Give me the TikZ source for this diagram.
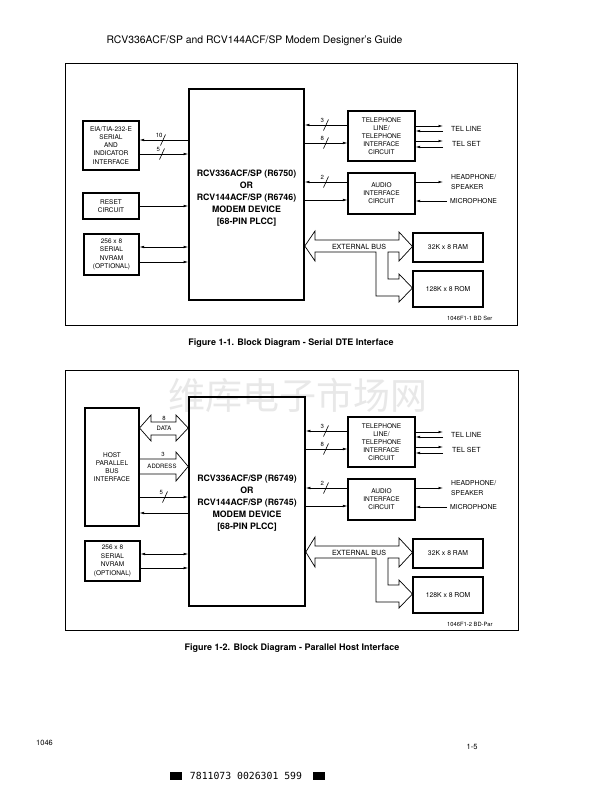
\documentclass[tikz,border=0pt]{standalone}
\usepackage{fontspec}
\setmainfont{TeX Gyre Heros}
\newfontfamily\cjkwm{Noto Sans CJK SC}
\newfontfamily\monof{DejaVu Sans Mono}
\usetikzlibrary{arrows.meta,calc}
\tikzset{
  blk/.style={draw, line width=1.1pt, inner sep=0pt, align=center, font=\fontsize{6.5}{8.1}\selectfont},
  devbox/.style={draw, line width=1.6pt, inner sep=0pt},
  devtext/.style={inner sep=0pt, align=center, font=\bfseries\fontsize{8.8}{12}\selectfont},
  wire/.style={line width=0.6pt},
  arr/.style={wire, -{Latex[length=4.5pt,width=2.6pt]}},
  darr/.style={wire, {Latex[length=4.5pt,width=2.6pt]}-{Latex[length=4.5pt,width=2.6pt]}},
  bus/.style={line width=0.7pt, line join=miter},
  lbl/.style={inner sep=0pt, anchor=west, align=left, font=\fontsize{6.8}{10}\selectfont},
  num/.style={inner sep=0.3pt, anchor=south east, font=\fontsize{6}{6}\selectfont},
  busnum/.style={inner sep=0.3pt, anchor=south, font=\fontsize{6}{6}\selectfont},
  bustext/.style={inner sep=0pt, font=\fontsize{6}{6}\selectfont},
  frame/.style={line width=0.7pt},
  reftext/.style={inner sep=0pt, anchor=west, font=\fontsize{5.8}{6}\selectfont},
  caption/.style={inner sep=0pt, font=\bfseries\fontsize{9}{10}\selectfont},
  slashmark/.pic={\draw[wire] (-2.5,5.5) -- (2.5,-5.5);}
}
% right half of a figure: #1 suffix, #2 vertical shift, #3 reference text
\newcommand\rhalf[3]{%
\begin{scope}[yshift=#2]
  \node[blk, minimum width=67pt, minimum height=50pt] (tel#1) at (381.5,136) {TELEPHONE\\LINE/\\TELEPHONE\\INTERFACE\\CIRCUIT};
  \node[blk, minimum width=67pt, minimum height=41pt] (aud#1) at (381.5,193.5) {AUDIO\\INTERFACE\\CIRCUIT};
  \node[blk, minimum width=70pt, minimum height=29pt, font=\fontsize{6.8}{8}\selectfont] (ram#1) at (448,247.5) {32K x 8 RAM};
  \node[blk, minimum width=70pt, minimum height=36pt, font=\fontsize{6.8}{8}\selectfont] (rom#1) at (448,289) {128K x 8 ROM};
  % device <-> telephone / audio
  \draw[arr] (tel#1.west |- 0,125) -- (dev#1.east |- 0,125);
  \draw[arr] (dev#1.east |- 0,143) -- (tel#1.west |- 0,143);
  \draw[arr] (aud#1.west |- 0,182) -- (dev#1.east |- 0,182);
  \draw[arr] (dev#1.east |- 0,200) -- (aud#1.west |- 0,200);
  \pic at (326,125) {slashmark}; \node[num] (n3r#1) at (324.5,123) {3};
  \pic at (326,143) {slashmark}; \node[num] (n8r#1) at (324.5,141) {8};
  \pic at (326,182) {slashmark}; \node[num] (n2r#1) at (324.5,180) {2};
  % outside lines
  \coordinate (tla#1) at (443,126);
  \coordinate (tlb#1) at (443,131);
  \coordinate (tsa#1) at (443,141);
  \coordinate (tsb#1) at (443,147);
  \coordinate (hp#1) at (443,182);
  \coordinate (mic#1) at (447,201);
  \draw[arr] (tel#1.east |- tla#1) -- (tla#1);
  \draw[arr] (tlb#1) -- (tel#1.east |- tlb#1);
  \draw[arr] (tel#1.east |- tsa#1) -- (tsa#1);
  \draw[arr] (tsb#1) -- (tel#1.east |- tsb#1);
  \draw[arr] (aud#1.east |- hp#1) -- (hp#1);
  \draw[arr] (mic#1) -- (aud#1.east |- mic#1);
  \node[lbl, font=\fontsize{7}{8}\selectfont] (tlt#1) at (451,129) {TEL LINE};
  \node[lbl, font=\fontsize{7}{8}\selectfont] (tst#1) at (452,144) {TEL SET};
  \node[lbl] (hpt#1) at (451,182) {HEADPHONE/\\SPEAKER};
  \node[lbl] (mict#1) at (450,201) {MICROPHONE};
  % external bus
  \draw[bus] (315,240) -- (399,240) -- (399,232) -- (ram#1.west |- 0,246.5) -- (399,261) -- (399,252)
     -- (388,252) -- (388,279) -- (399,279) -- (399,274) -- (rom#1.west |- 0,288) -- (399,302) -- (399,296)
     -- (376,296) -- (376,252) -- (315,252) -- (315,261) -- (dev#1.east |- 0,246) -- (315,231) -- cycle;
  \node[inner sep=0pt, font=\fontsize{7.1}{8}\selectfont] (ext#1) at (359,246.5) {EXTERNAL BUS};
  \node[reftext] (ref#1) at (447,318) {#3};
\end{scope}}
\begin{document}
\begin{tikzpicture}[x=1pt,y=-1pt]
\useasboundingbox (0,0) rectangle (599,798);
\fill[white] (0,0) rectangle (599,798);
% watermark
\node[inner sep=0pt, font=\cjkwm\fontsize{37}{37}\selectfont, text=black!9] (wm) at (298,395) {维库电子市场网};
% header
\node[inner sep=0pt, font=\fontsize{10.4}{12}\selectfont] (head) at (254.5,41) {RCV336ACF/SP and RCV144ACF/SP Modem Designer's Guide};

% ================= Figure 1-1 =================
\draw[frame] (65,63) rectangle (517,325);
\node[devbox, minimum width=115pt, minimum height=211pt] (dev1) at (246.5,194.5) {};
\node[devtext] (dev1t) at (246.5,198) {RCV336ACF/SP (R6750)\\OR\\RCV144ACF/SP (R6746)\\MODEM DEVICE\\{}[68-PIN PLCC]};
\node[blk, minimum width=56pt, minimum height=49pt] (eia) at (111,145.5) {EIA/TIA-232-E\\SERIAL\\AND\\INDICATOR\\INTERFACE};
\node[blk, minimum width=56pt, minimum height=26pt] (reset) at (111,206) {RESET\\CIRCUIT};
\node[blk, minimum width=55pt, minimum height=41pt, font=\fontsize{6.5}{8.5}\selectfont] (nv1) at (111.5,254.5) {256 x 8\\SERIAL\\NVRAM\\(OPTIONAL)};
\draw[arr] (dev1.west |- 0,140) -- (eia.east |- 0,140);
\draw[arr] (eia.east |- 0,154) -- (dev1.west |- 0,154);
\pic at (163,140) {slashmark}; \node[num] (n10) at (163,138) {10};
\pic at (162,154) {slashmark}; \node[num] (n5a) at (160.5,152) {5};
\draw[arr] (reset.east |- 0,206) -- (dev1.west |- 0,206);
\draw[darr] (nv1.east |- 0,247) -- (dev1.west |- 0,247);
\draw[arr] (nv1.east |- 0,262) -- (dev1.west |- 0,262);
\rhalf{1}{0pt}{1046F1-1 BD Ser}
\node[caption] (cap1) at (291,343) {Figure 1-1. Block Diagram - Serial DTE Interface};

% ================= Figure 1-2 =================
\draw[frame] (65,370) rectangle (518,630);
\node[devbox, minimum width=116pt, minimum height=209pt] (dev2) at (247,501.5) {};
\node[devtext] (dev2t) at (247,503) {RCV336ACF/SP (R6749)\\OR\\RCV144ACF/SP (R6745)\\MODEM DEVICE\\{}[68-PIN PLCC]};
\node[blk, minimum width=54pt, minimum height=118pt] (host) at (112,467) {HOST\\PARALLEL\\BUS\\INTERFACE};
\node[blk, minimum width=55pt, minimum height=40pt, font=\fontsize{6.5}{8.5}\selectfont] (nv2) at (112.5,561) {256 x 8\\SERIAL\\NVRAM\\(OPTIONAL)};
% DATA bus (double)
\draw[bus] (host.east |- 0,428) -- (151,415) -- (151,422) -- (176,422) -- (176,415) -- (dev2.west |- 0,428)
   -- (176,441) -- (176,435) -- (151,435) -- (151,441) -- cycle;
\node[busnum] (n8d) at (164,420.8) {8};
\node[bustext] (datat) at (164,428.5) {DATA};
% ADDRESS bus (single)
\draw[bus] (host.east |- 0,459) -- (176,459) -- (176,452) -- (dev2.west |- 0,466.5) -- (176,481) -- (176,474) -- (host.east |- 0,474);
\node[busnum] (n3a) at (163,457.5) {3};
\node[bustext] (addrt) at (162,466.5) {ADDRESS};
\draw[arr] (host.east |- 0,497) -- (dev2.west |- 0,497);
\pic at (165,497) {slashmark}; \node[num] (n5b) at (163.5,495) {5};
\draw[arr] (dev2.west |- 0,513) -- (host.east |- 0,513);
\draw[darr] (nv2.east |- 0,554) -- (dev2.west |- 0,554);
\draw[arr] (nv2.east |- 0,568) -- (dev2.west |- 0,568);
\rhalf{2}{-306pt}{1046F1-2 BD-Par}
\node[caption] (cap2) at (292,648.5) {Figure 1-2. Block Diagram - Parallel Host Interface};

% ================= footer =================
\node[inner sep=0pt, anchor=west, font=\fontsize{7.5}{8}\selectfont] (pg1) at (36,743) {1046};
\node[inner sep=0pt, font=\fontsize{7.5}{8}\selectfont] (pg2) at (472,747) {1-5};
\fill (170,772) rectangle (182,780);
\fill (313,772) rectangle (325,780);
\node[inner sep=0pt, font=\monof\fontsize{9.8}{10}\selectfont] (bc) at (246,776) {7811073 0026301 599};
\end{tikzpicture}
\end{document}
